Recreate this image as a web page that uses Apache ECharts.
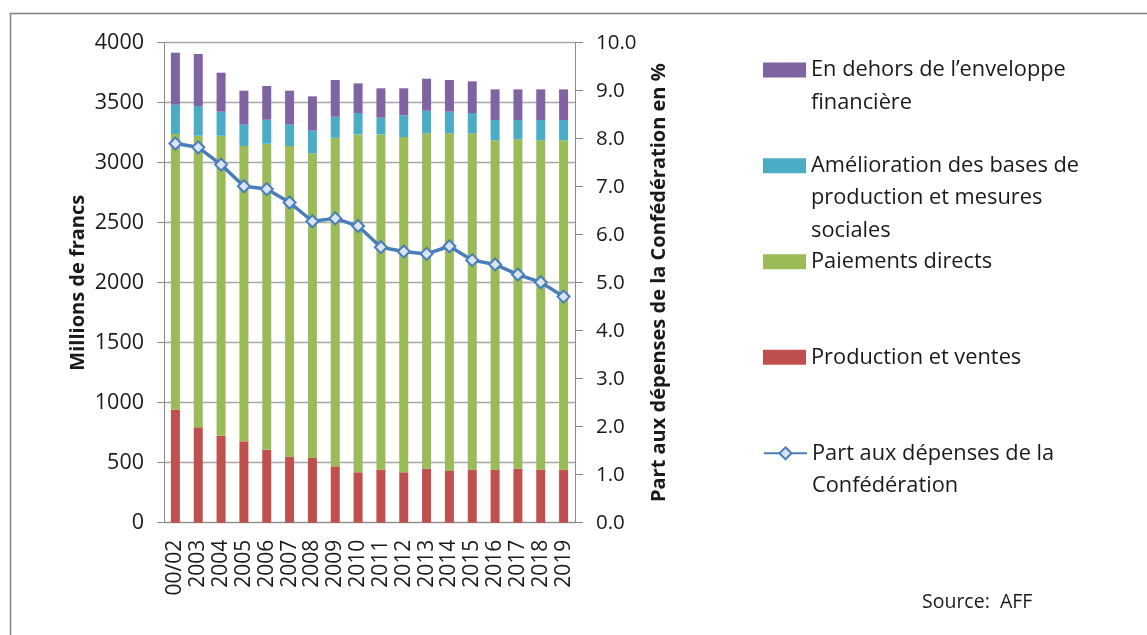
<!DOCTYPE html>
<html>
<head>
<meta charset="utf-8">
<script src="https://cdn.jsdelivr.net/npm/echarts@6/dist/echarts.min.js"></script>
<style>
  html, body { margin: 0; padding: 0; background: #fff; }
  #main { width: 1147px; height: 635px; }
</style>
</head>
<body>
<div id="main"></div>
<script>
// données
var annees = ['00/02', '2003', '2004', '2005', '2006', '2007', '2008', '2009', '2010',
  '2011', '2012', '2013', '2014', '2015', '2016', '2017', '2018', '2019'];
var productionVentes = [942, 795, 725, 678, 608, 547, 539, 470, 420, 442, 420, 450, 431, 442, 442, 450, 442, 442];
var paiementsDirects = [2297, 2430, 2500, 2461, 2550, 2592, 2539, 2738, 2816, 2794, 2794, 2795, 2814, 2803, 2745, 2745, 2745, 2745];
var ameliorationBases = [244, 247, 200, 178, 200, 178, 189, 175, 178, 139, 181, 188, 180, 169, 169, 161, 169, 169];
var horsEnveloppe = [434, 434, 325, 283, 281, 283, 286, 306, 247, 245, 225, 267, 264, 264, 255, 255, 255, 255];
var partDepenses = [7.90, 7.82, 7.46, 7.01, 6.95, 6.67, 6.28, 6.34, 6.18, 5.74, 5.65, 5.60, 5.76, 5.47, 5.38, 5.17, 5.01, 4.71];

var police = '"Open Sans", Lato, sans-serif';
var texte = '#1a1a1a';
var gris = '#8c8c8c';

// une légende par série, pour placer chaque entrée comme dans Excel
function legende(nom, lignes, centreY, icone) {
  var n = lignes.length;
  var hauteur = (2 * n - 1) * 32.5;
  var l = {
    left: 763,
    top: centreY - hauteur / 2,
    padding: 0,
    itemWidth: 43,
    itemHeight: 15,
    data: [nom],
    formatter: function () {
      var blancs = [];
      for (var i = 0; i < n - 1; i++) blancs.push('');
      return blancs.concat(lignes).join('\n');
    },
    textStyle: { fontSize: 21.8, lineHeight: 32.5, color: texte, fontFamily: police }
  };
  if (icone) l.icon = icone;
  return l;
}

var chart = echarts.init(document.getElementById('main'));
chart.setOption({
  animation: false,
  backgroundColor: '#fff',
  textStyle: { fontFamily: police },
  grid: { left: 164, right: 572, top: 42.7, bottom: 112.3 },
  legend: [
    legende('En dehors de l’enveloppe financière', ['En dehors de l’enveloppe', 'financière'], 70, 'rect'),
    legende('Amélioration des bases de production et mesures sociales', ['Amélioration des bases de', 'production et mesures', 'sociales'], 165.7, 'rect'),
    legende('Paiements directs', ['Paiements directs'], 261.7, 'rect'),
    legende('Production et ventes', ['Production et ventes'], 357.3, 'rect'),
    legende('Part aux dépenses de la Confédération', ['Part aux dépenses de la', 'Confédération'], 453.3)
  ],
  xAxis: {
    type: 'category',
    data: annees,
    axisLine: { lineStyle: { color: gris } },
    axisTick: { length: 8, lineStyle: { color: gris } },
    axisLabel: { interval: 0, rotate: 90, margin: 17, fontSize: 21, color: texte, fontFamily: police }
  },
  yAxis: [
    {
      type: 'value',
      min: 0, max: 4000, interval: 500,
      name: 'Millions de francs',
      nameLocation: 'middle',
      nameRotate: 90,
      nameGap: 76,
      nameTextStyle: { fontSize: 20, fontWeight: 'bold', color: texte, fontFamily: police },
      axisLine: { show: true, lineStyle: { color: gris } },
      axisTick: { show: true, length: 7, lineStyle: { color: gris } },
      axisLabel: {
        fontSize: 21.5, margin: 20, color: texte, fontFamily: police,
        formatter: function (v) { return String(v); }
      },
      splitLine: { lineStyle: { color: '#a6a6a6', width: 1.3 } }
    },
    {
      type: 'value',
      min: 0, max: 10, interval: 1,
      name: 'Part aux dépenses de la Confédération en %',
      nameLocation: 'middle',
      nameRotate: 90,
      nameGap: 74,
      nameTextStyle: { fontSize: 20, fontWeight: 'bold', color: texte, fontFamily: police },
      axisLine: { show: true, lineStyle: { color: gris } },
      axisTick: { show: true, length: 8, lineStyle: { color: gris } },
      axisLabel: {
        fontSize: 20.5, margin: 21, color: texte, fontFamily: police,
        formatter: function (v) { return v.toFixed(1); }
      },
      splitLine: { show: false }
    }
  ],
  series: [
    { name: 'Production et ventes', type: 'bar', stack: 'total', barWidth: 9, data: productionVentes, itemStyle: { color: '#c0504d' } },
    { name: 'Paiements directs', type: 'bar', stack: 'total', barWidth: 9, data: paiementsDirects, itemStyle: { color: '#9bbb59' } },
    { name: 'Amélioration des bases de production et mesures sociales', type: 'bar', stack: 'total', barWidth: 9, data: ameliorationBases, itemStyle: { color: '#4bacc6' } },
    { name: 'En dehors de l’enveloppe financière', type: 'bar', stack: 'total', barWidth: 9, data: horsEnveloppe, itemStyle: { color: '#8064a2' } },
    {
      name: 'Part aux dépenses de la Confédération',
      type: 'line',
      yAxisIndex: 1,
      data: partDepenses,
      symbol: 'diamond',
      symbolSize: 12,
      lineStyle: { color: '#4a7ebb', width: 3.5 },
      itemStyle: { color: '#dbe5f1', borderColor: '#4a7ebb', borderWidth: 2 }
    }
  ],
  graphic: [
    // cadre du graphique
    { type: 'rect', left: 8, top: 11, shape: { width: 1160, height: 640 }, style: { fill: null, stroke: '#7f7f7f', lineWidth: 1.5 }, silent: true },
    { type: 'text', left: 922, top: 592, style: { text: 'Source:  AFF', fontSize: 19.5, fill: texte, fontFamily: police } }
  ]
});
</script>
</body>
</html>
